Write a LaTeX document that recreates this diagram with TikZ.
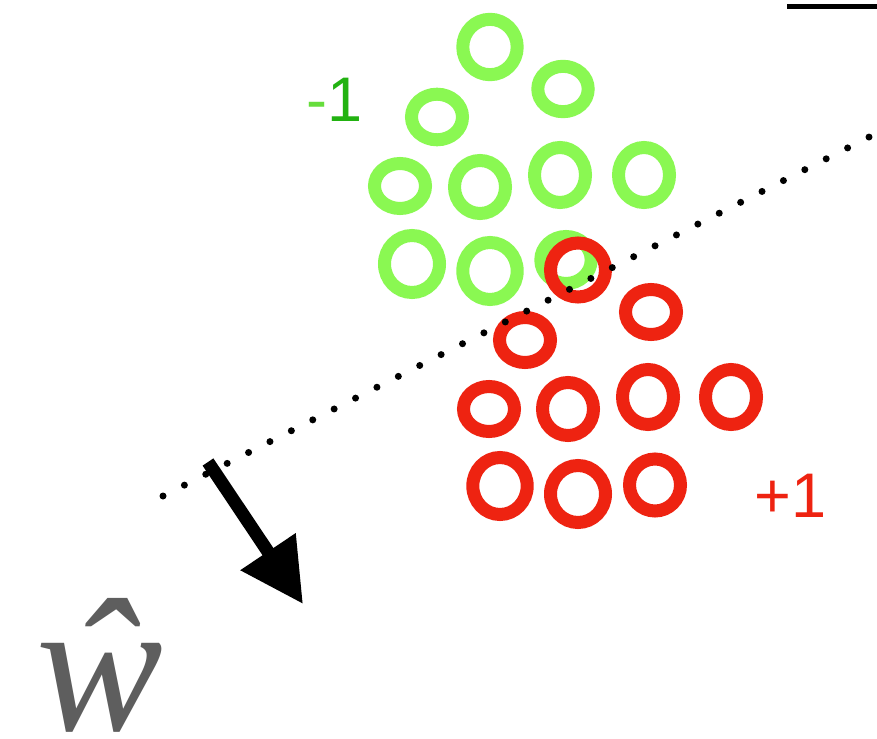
\documentclass[tikz,border=0pt]{standalone}
\usepackage{fontspec}
\setmainfont{Liberation Sans}
\newfontfamily\serifw{Liberation Serif}
\usetikzlibrary{arrows.meta}
\definecolor{ringgreen}{RGB}{138,248,82}
\definecolor{ringred}{RGB}{238,35,17}
\definecolor{labgreen}{RGB}{34,178,17}
\definecolor{labgreenlight}{RGB}{102,221,60}
\definecolor{hatgrey}{RGB}{94,94,94}
\begin{document}
\begin{tikzpicture}[x=1pt,y=-1pt,
  ring/.style={line width=13pt},
  greenring/.style={ring,draw=ringgreen},
  redring/.style={ring,draw=ringred},
  boundary/.style={line width=7pt,line cap=round,dash pattern=on 0pt off 24pt},
  normalvec/.style={line width=13pt,-{Triangle[length=63pt,width=63pt]}},
  classlabel/.style={inner sep=0pt,anchor=base west,font=\fontsize{63}{63}\selectfont}]
\useasboundingbox[fill=white] (0,0) rectangle (877,738);

% class -1 samples
\foreach \cx/\cy/\rx/\ry in {490/47/27.2/27.7, 563/89/25.2/22.7, 437/117/25.5/22.8,
  400/186/25.5/22.5, 480/187/25.5/26.5, 560/175/25.5/27.5, 644/175/25.5/27.5,
  412/264/27.5/28.5, 490/271/27.2/28.5, 566/260/25.2/23.5}
  \draw[greenring] (\cx,\cy) ellipse [x radius=\rx pt, y radius=\ry pt];

% class +1 samples
\foreach \cx/\cy/\rx/\ry in {578/270/27.5/27, 651/312/25.5/22.5, 525/340/25.5/22.5,
  489/409/25.5/22.5, 568/409/25.5/26.5, 648/397/25.5/27.5, 731/397/25.5/27.5,
  500/486/27.2/28.5, 578/494/27.5/28.5, 655/485/25.5/26}
  \draw[redring] (\cx,\cy) ellipse [x radius=\rx pt, y radius=\ry pt];

% decision boundary
\coordinate (bstart) at (163,496);
\coordinate (bend) at (869.5,136.8);
\draw[boundary] (bstart) -- (bend);

% normal vector
\coordinate (wtail) at (208,462);
\coordinate (wtip) at (303,604);
\draw[normalvec] (wtail) -- (wtip);

% frame edge
\coordinate (edgeL) at (787,6.7);
\coordinate (edgeR) at (877,6.7);
\draw[line width=5pt] (edgeL) -- (edgeR);

% labels
\node[classlabel] (neg) at (306,122) {\textcolor{labgreenlight}{-}\textcolor{labgreen}{1}};
\node[classlabel,text=ringred] (pos) at (754,517) {+1};
\node[inner sep=0pt,anchor=base,text=hatgrey,font=\serifw\itshape\fontsize{190}{190}\selectfont] (what) at (100,730) {ŵ};
\end{tikzpicture}
\end{document}
